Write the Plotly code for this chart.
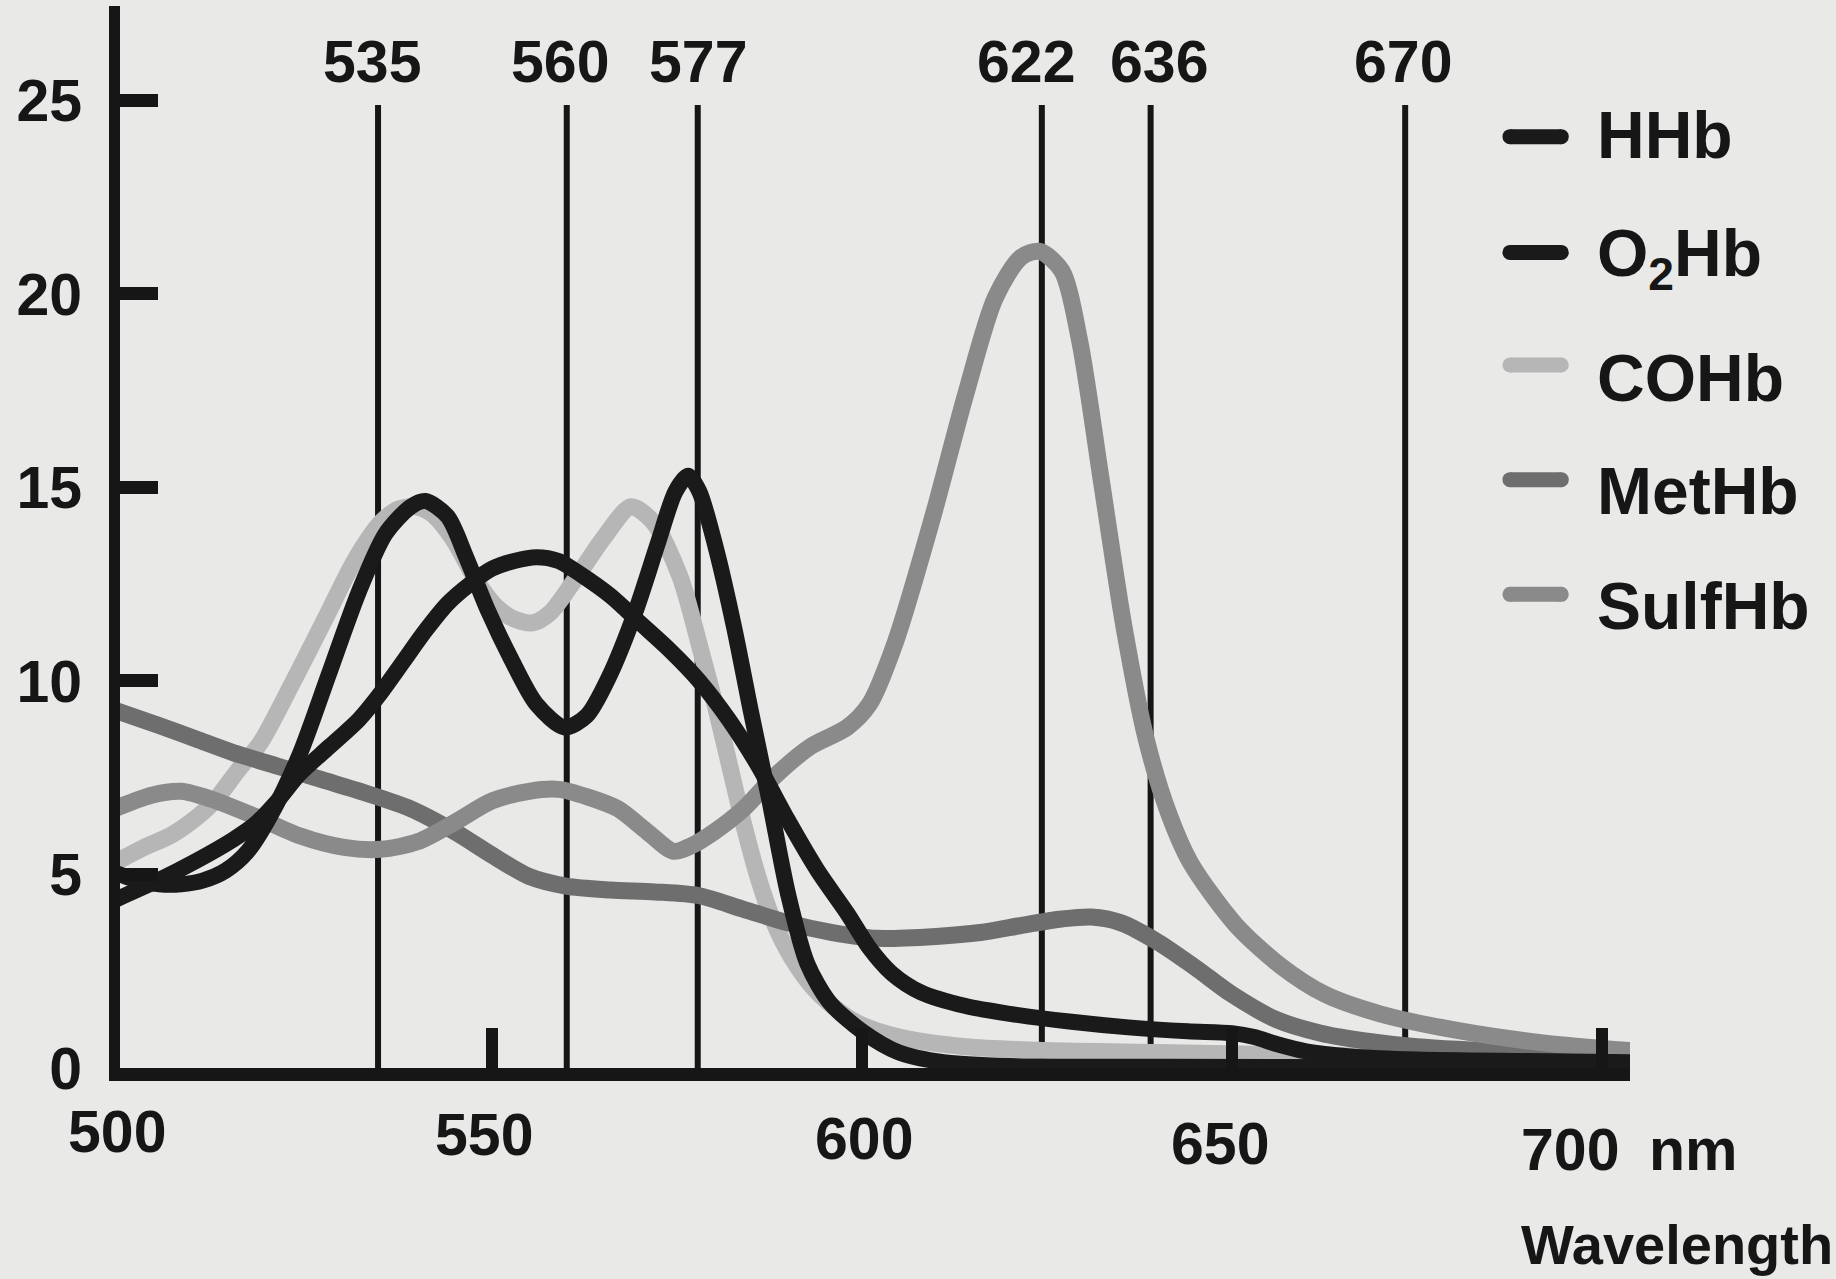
import plotly.graph_objects as go

# ---------------- data ----------------
wl_hhb = [499, 505, 510, 515, 518, 521, 524, 528, 532, 535, 538, 541, 544, 547, 550, 553, 556, 559, 562, 566,
          570, 574, 578, 582, 586, 590, 594, 598, 601, 604, 608, 614, 620, 628, 636, 644, 650, 653, 656, 660,
          666, 675, 690, 703.8]
hhb = [4.34, 4.86, 5.35, 5.9, 6.3, 6.9, 7.6, 8.3, 9.0, 9.7, 10.5, 11.3, 12.0, 12.5, 12.9, 13.1, 13.2, 13.1, 12.75, 12.2,
       11.5, 10.8, 10.0, 9.0, 7.8, 6.4, 5.1, 4.0, 3.1, 2.45, 1.95, 1.6, 1.4, 1.2, 1.05, 0.95, 0.9, 0.8, 0.62, 0.43,
       0.3, 0.22, 0.18, 0.15]

wl_o2hb = [499, 502, 505, 508, 511, 514, 517, 520, 524, 528, 532, 535.6, 539, 541, 544, 546.5, 549.5, 552.5, 556, 559.8,
           562.8, 565.8, 569.4, 572.4, 574.8, 576.5, 578, 580.3, 582.7, 585, 587.5, 590, 592.6, 595.6, 600, 605, 611, 620, 640, 670,
           703.8]
o2hb = [5.05, 4.85, 4.75, 4.75, 4.85, 5.1, 5.6, 6.5, 8.1, 10.2, 12.3, 13.8, 14.5, 14.65, 14.25, 13.2, 11.8, 10.6, 9.4, 8.8,
        9.1, 10.1, 11.8, 13.55, 14.9, 15.3, 14.9, 13.4, 11.4, 9.2, 6.9, 4.5, 2.7, 1.7, 0.95, 0.4, 0.15, 0.05, 0.03, 0.02,
        0.02]

wl_cohb = [499, 503, 506.5, 509.6, 512.5, 515.7, 518.7, 522.9, 527.7, 531.4, 535, 537.5, 539.8, 542, 544.6, 548.2, 550.7, 553, 555.5, 557.8,
           561.5, 565.1, 568.8, 571.8, 575.4, 578.2, 580, 582, 584, 586, 588, 590.5, 594, 599, 605, 614, 625, 640, 655, 670,
           690, 703.8]
cohb = [5.3, 5.7, 6.0, 6.4, 6.9, 7.7, 8.4, 9.9, 11.7, 13.1, 14.1, 14.45, 14.5, 14.3, 13.7, 12.5, 11.9, 11.6, 11.5, 11.75,
        12.7, 13.7, 14.5, 14.1, 12.7, 10.8, 9.5, 7.9, 6.3, 4.9, 3.8, 2.85, 1.95, 1.2, 0.8, 0.55, 0.45, 0.4, 0.35, 0.3,
        0.25, 0.22]

wl_methb = [499, 505, 510, 515, 521, 527, 533, 539, 545, 550, 555, 560, 566, 572, 578, 584, 590, 596, 602, 610,
            616, 622, 627, 631, 635, 640, 645, 650, 656, 662, 668, 675, 689, 703.8]
methb = [9.25, 8.85, 8.5, 8.15, 7.8, 7.45, 7.1, 6.7, 6.1, 5.5, 4.95, 4.7, 4.6, 4.55, 4.45, 4.1, 3.75, 3.5, 3.35, 3.4,
         3.5, 3.7, 3.85, 3.9, 3.75, 3.25, 2.6, 1.9, 1.25, 0.9, 0.7, 0.55, 0.4, 0.3]

wl_sulfhb = [499, 504, 508, 512, 518, 524, 530, 535, 540, 545, 550, 555, 559, 563, 567, 571, 574.5, 577, 580, 584,
             588, 593, 598, 601, 604.5, 609.5, 614, 618, 621.5, 624, 627, 629.4, 632.4, 635.4, 638.4, 641.4, 644.4, 650.5, 656.5, 662.6,
             670, 681, 692, 703.8]
sulfhb = [6.7, 7.05, 7.15, 6.95, 6.5, 6.0, 5.7, 5.65, 5.85, 6.35, 6.9, 7.15, 7.2, 7.0, 6.7, 6.1, 5.6, 5.75, 6.1, 6.7,
          7.5, 8.3, 8.8, 9.4, 11.0, 14.2, 17.4, 19.9, 20.95, 21.1, 20.6, 18.8, 15.1, 11.4, 8.5, 6.6, 5.3, 3.7, 2.65, 1.9,
          1.4, 0.95, 0.65, 0.45]

# marked wavelengths (vertical lines, drawn position) and their labels
marker_x = [534.6, 560.1, 577.8, 624.3, 639.0, 673.4]
marker_labels = ["535", "560", "577", "622", "636", "670"]
marker_top = 24.88

x_tick_vals = [500, 550, 600, 650, 700]
x_tick_labels = ["500", "550", "600", "650", "700"]
y_tick_vals = [0, 5, 10, 15, 20, 25]
y_tick_labels = ["0", "5", "10", "15", "20", "25"]

series_names = ["HHb", "O<sub>2</sub>Hb", "COHb", "MetHb", "SulfHb"]

# ---------------- style ----------------
INK = "#161616"
BG = "#e9e9e7"
FONT = "Liberation Sans, Arial, Helvetica, sans-serif"
colors = {"HHb": "#1a1a1a", "O2Hb": "#1a1a1a", "COHb": "#b6b6b6", "MetHb": "#6e6e6e", "SulfHb": "#8a8a8a"}

fig = go.Figure()

# vertical reference lines (behind curves)
for xv in marker_x:
    fig.add_trace(go.Scatter(x=[xv, xv], y=[0, marker_top], mode="lines",
                             line=dict(color=INK, width=6), hoverinfo="skip", showlegend=False))

curves = [
    ("COHb", wl_cohb, cohb, 17),
    ("MetHb", wl_methb, methb, 17),
    ("SulfHb", wl_sulfhb, sulfhb, 17),
    ("HHb", wl_hhb, hhb, 16),
    ("O2Hb", wl_o2hb, o2hb, 16),
]
for name, xs, ys, w in curves:
    fig.add_trace(go.Scatter(x=xs, y=ys, mode="lines", name=name,
                             line=dict(color=colors[name], width=w, shape="spline", smoothing=0.8),
                             showlegend=False))

annotations = []
# labels above vertical lines
label_dx = [-6, -7, 0, -16, 8, -2]
for xv, lab, dx in zip(marker_x, marker_labels, label_dx):
    annotations.append(dict(x=xv, y=26.0, xref="x", yref="y", text=lab, showarrow=False,
                            xanchor="center", yanchor="middle", xshift=dx,
                            font=dict(family=FONT, size=59, color=INK, weight="bold")))

# x tick labels
tick_dx = [-5, -8, 2, -12, -32]
tick_dy = [-64, -67, -71, -76, -82]
for xv, lab, dx, dy in zip(x_tick_vals, x_tick_labels, tick_dx, tick_dy):
    annotations.append(dict(x=xv, y=0, xref="x", yref="paper", text=lab, showarrow=False,
                            xanchor="center", yanchor="middle", xshift=dx, yshift=dy,
                            font=dict(family=FONT, size=59, color=INK, weight="bold")))
annotations.append(dict(x=700, y=0, xref="x", yref="paper", text="nm", showarrow=False,
                        xanchor="left", yanchor="middle", xshift=45, yshift=-82,
                        font=dict(family=FONT, size=59, color=INK, weight="bold")))
annotations.append(dict(x=1.0, y=0, xref="paper", yref="paper", text="Wavelength", showarrow=False,
                        xanchor="right", yanchor="middle", xshift=205, yshift=-176,
                        font=dict(family=FONT, size=56, color=INK, weight="bold")))

# legend (custom): thick swatch with rounded ends + label
shapes = []
swatch_y = [0.877, 0.768, 0.662, 0.554, 0.446]
text_y = [0.879, 0.763, 0.650, 0.543, 0.435]
leg_keys = ["HHb", "O2Hb", "COHb", "MetHb", "SulfHb"]
sw_x0, sw_x1, sw_w = 0.9205, 0.9545, 15
for key, lab, sy, ty in zip(leg_keys, series_names, swatch_y, text_y):
    c = colors[key]
    shapes.append(dict(type="line", xref="paper", yref="paper", x0=sw_x0, x1=sw_x1, y0=sy, y1=sy,
                       line=dict(color=c, width=sw_w)))
    for xe in (sw_x0, sw_x1):
        shapes.append(dict(type="circle", xref="paper", yref="paper",
                           xsizemode="pixel", ysizemode="pixel", xanchor=xe, yanchor=sy,
                           x0=-sw_w / 2, x1=sw_w / 2, y0=-sw_w / 2, y1=sw_w / 2,
                           fillcolor=c, line=dict(width=0)))
    annotations.append(dict(x=0.977, y=ty, xref="paper", yref="paper", text=lab, showarrow=False,
                            xanchor="left", yanchor="middle",
                            font=dict(family=FONT, size=66, color=INK, weight="bold")))

fig.update_layout(
    width=1836, height=1279,
    margin=dict(l=120, r=206, t=6, b=211),
    paper_bgcolor=BG, plot_bgcolor=BG,
    showlegend=False,
    annotations=annotations,
    shapes=shapes,
    xaxis=dict(range=[499.73, 703.78], showgrid=False, zeroline=False, showline=True,
               linewidth=13, linecolor=INK, ticks="inside", tickvals=[550, 600, 650, 700],
               ticklen=40, tickwidth=12, tickcolor=INK, showticklabels=False, layer="above traces"),
    yaxis=dict(range=[0, 27.44], showgrid=False, zeroline=False, showline=True,
               linewidth=11, linecolor=INK, ticks="inside", tickvals=y_tick_vals, ticktext=y_tick_labels,
               ticklen=38, tickwidth=13, tickcolor=INK, ticklabelstandoff=15,
               tickfont=dict(family=FONT, size=59, color=INK, weight="bold"), layer="above traces"),
)

fig.write_html("out.html")
